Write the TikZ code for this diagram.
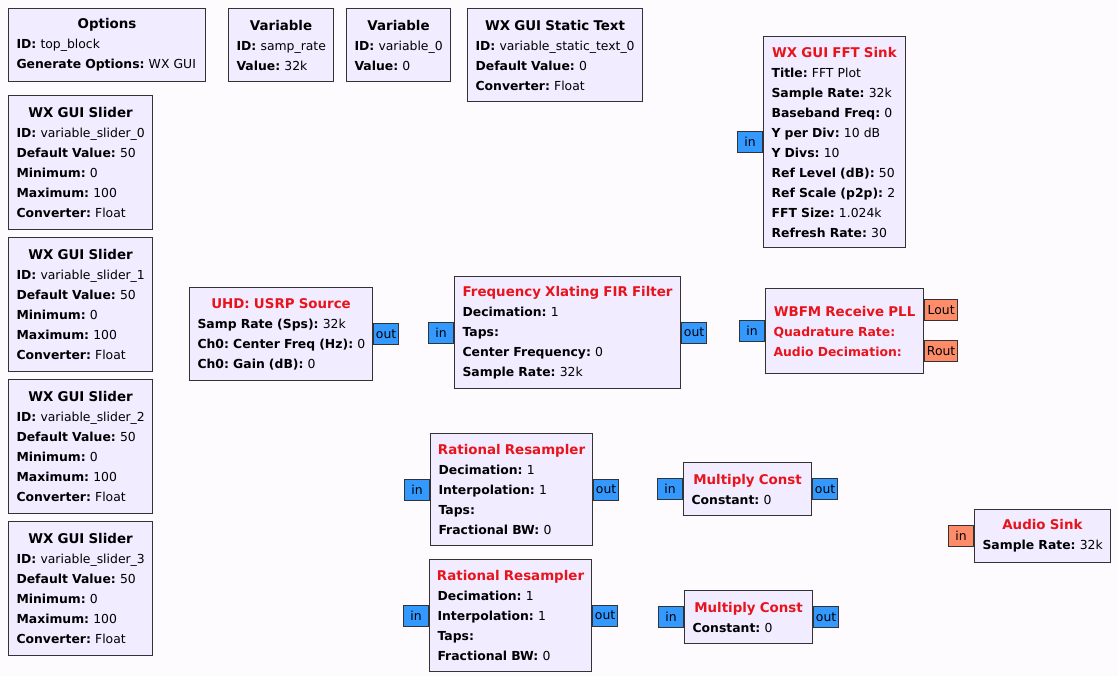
\documentclass[tikz,border=0pt]{standalone}
\usepackage{fontspec}
\setmainfont{DejaVu Sans}
\usetikzlibrary{positioning}
\definecolor{canvas}{HTML}{FDFBFD}
\definecolor{blkfill}{HTML}{F1ECFF}
\definecolor{cplx}{HTML}{3399FF}
\definecolor{flt}{HTML}{FF8C69}
\definecolor{errred}{HTML}{E8141C}
\newcommand{\prm}[2]{\mbox{\textbf{#1:} #2}}
\newcommand{\perr}[1]{\mbox{\color{errred}\textbf{#1:}}}
\newcommand{\ttl}[1]{\makebox[\linewidth][c]{\fontsize{13.4}{20}\selectfont\textbf{#1}}}
\newcommand{\ttlr}[1]{\makebox[\linewidth][c]{\fontsize{13.4}{20}\selectfont\color{errred}\textbf{#1}}}
\frenchspacing

\begin{document}
\begin{tikzpicture}[
  x=1pt,y=-1pt,
  font=\fontsize{12.4}{20}\selectfont,
  blk/.style 2 args={draw=black!80,line width=1.1pt,fill=blkfill,anchor=north west,align=left,
    inner xsep=8pt,inner ysep=0pt,minimum width=#1,text width=#1-16pt,minimum height=#2},
  port/.style={draw=black!80,line width=1pt,fill=cplx,minimum width=25pt,minimum height=21pt,inner sep=0pt},
  fport/.style={port,fill=flt}
]
\useasboundingbox (0,0) rectangle (1118,676);
\fill[canvas] (0,0) rectangle (1118,676);
% variables and options
\node[blk={197pt}{73pt}] (opts) at (8,8) {\ttl{Options}\\\prm{ID}{top\_block}\\\prm{Generate Options}{WX GUI}};
\node[blk={105pt}{73pt}] (samprate) at (228,8) {\ttl{Variable}\\\prm{ID}{samp\_rate}\\\prm{Value}{32k}};
\node[blk={104pt}{73pt}] (var0) at (346,8) {\ttl{Variable}\\\prm{ID}{variable\_0}\\\prm{Value}{0}};
\node[blk={175pt}{93pt}] (stext) at (467,8) {\ttl{WX GUI Static Text}\\\prm{ID}{variable\_static\_text\_0}\\\prm{Default Value}{0}\\\prm{Converter}{Float}};
% sliders
\node[blk={144pt}{134pt}] (slider0) at (8,95) {\ttl{WX GUI Slider}\\\prm{ID}{variable\_slider\_0}\\\prm{Default Value}{50}\\\prm{Minimum}{0}\\\prm{Maximum}{100}\\\prm{Converter}{Float}};
\node[blk={144pt}{134pt}] (slider1) at (8,237) {\ttl{WX GUI Slider}\\\prm{ID}{variable\_slider\_1}\\\prm{Default Value}{50}\\\prm{Minimum}{0}\\\prm{Maximum}{100}\\\prm{Converter}{Float}};
\node[blk={144pt}{134pt}] (slider2) at (8,379) {\ttl{WX GUI Slider}\\\prm{ID}{variable\_slider\_2}\\\prm{Default Value}{50}\\\prm{Minimum}{0}\\\prm{Maximum}{100}\\\prm{Converter}{Float}};
\node[blk={144pt}{134pt}] (slider3) at (8,521) {\ttl{WX GUI Slider}\\\prm{ID}{variable\_slider\_3}\\\prm{Default Value}{50}\\\prm{Minimum}{0}\\\prm{Maximum}{100}\\\prm{Converter}{Float}};
% signal blocks
\node[blk={142pt}{211pt}] (fft) at (763,36) {\ttlr{WX GUI FFT Sink}\\\prm{Title}{FFT Plot}\\\prm{Sample Rate}{32k}\\\prm{Baseband Freq}{0}\\\prm{Y per Div}{10 dB}\\\prm{Y Divs}{10}\\\prm{Ref Level (dB)}{50}\\\prm{Ref Scale (p2p)}{2}\\\prm{FFT Size}{1.024k}\\\prm{Refresh Rate}{30}};
\node[blk={183pt}{93pt}] (usrp) at (189,287) {\ttlr{UHD: USRP Source}\\\prm{Samp Rate (Sps)}{32k}\\\prm{Ch0: Center Freq (Hz)}{0}\\\prm{Ch0: Gain (dB)}{0}};
\node[blk={226pt}{112pt}] (xlat) at (454,276) {\ttlr{Frequency Xlating FIR Filter}\\\prm{Decimation}{1}\\\prm{Taps}{}\\\prm{Center Frequency}{0}\\\prm{Sample Rate}{32k}};
\node[blk={158pt}{85pt}] (wbfm) at (765,288) {\ttlr{WBFM Receive PLL}\\\perr{Quadrature Rate}\\\perr{Audio Decimation}};
\node[blk={162pt}{112pt}] (resamp1) at (430,433) {\ttlr{Rational Resampler}\\\prm{Decimation}{1}\\\prm{Interpolation}{1}\\\prm{Taps}{}\\\prm{Fractional BW}{0}};
\node[blk={128pt}{53pt}] (mult1) at (683,462) {\ttlr{Multiply Const}\\\prm{Constant}{0}};
\node[blk={162pt}{112pt}] (resamp2) at (429,559) {\ttlr{Rational Resampler}\\\prm{Decimation}{1}\\\prm{Interpolation}{1}\\\prm{Taps}{}\\\prm{Fractional BW}{0}};
\node[blk={128pt}{53pt}] (mult2) at (684,590) {\ttlr{Multiply Const}\\\prm{Constant}{0}};
\node[blk={136pt}{53pt}] (asink) at (974,509) {\ttlr{Audio Sink}\\\prm{Sample Rate}{32k}};
% ports
\node[port,anchor=east] (fft-in) at (fft.west) {in};
\node[port,anchor=west] (usrp-out) at (usrp.east) {out};
\node[port,anchor=east] (xlat-in) at (xlat.west) {in};
\node[port,anchor=west] (xlat-out) at (xlat.east) {out};
\node[port,anchor=east] (wbfm-in) at (wbfm.west) {in};
\node[fport,anchor=west,minimum width=33pt,yshift=21pt] (wbfm-lout) at (wbfm.east) {Lout};
\node[fport,anchor=west,minimum width=33pt,yshift=-20pt] (wbfm-rout) at (wbfm.east) {Rout};
\node[port,anchor=east] (resamp1-in) at (resamp1.west) {in};
\node[port,anchor=west] (resamp1-out) at (resamp1.east) {out};
\node[port,anchor=east] (mult1-in) at (mult1.west) {in};
\node[port,anchor=west] (mult1-out) at (mult1.east) {out};
\node[port,anchor=east] (resamp2-in) at (resamp2.west) {in};
\node[port,anchor=west] (resamp2-out) at (resamp2.east) {out};
\node[port,anchor=east] (mult2-in) at (mult2.west) {in};
\node[port,anchor=west] (mult2-out) at (mult2.east) {out};
\node[fport,anchor=east] (asink-in) at (asink.west) {in};
\end{tikzpicture}
\end{document}
